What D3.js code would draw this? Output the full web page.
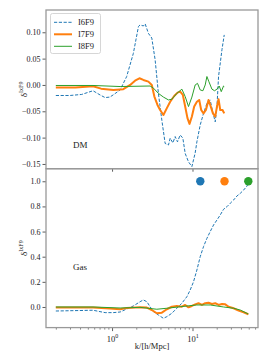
<!DOCTYPE html>
<html><head><meta charset="utf-8">
<script src="https://cdn.jsdelivr.net/npm/d3@7"></script>
<style>body{margin:0;background:#fff}svg{display:block}text{font-family:"Liberation Serif","DejaVu Serif",serif;fill:#222}</style>
</head><body><script>
// ---- data ----
const seriesNames = ["I6F9", "I7F9", "I8F9"];
const colors = ["#1f77b4", "#ff7f0e", "#2ca02c"];

const kDM6 = [0.2,0.3,0.42,0.58,0.71,0.82,0.94,1.03,1.26,1.52,1.84,2.13,2.23,2.45,2.58,2.83,3.12,3.43,3.77,4.16,4.57,5.03,5.28,5.70,6.09,6.51,7.03,7.59,8.11,8.92,9.83,10.8,11.34,12.47,13.71,15.11,16.61,17.95,19.17,20.14,21.08,23.24,24.8];
const dm6 = [-0.020,-0.020,-0.018,-0.011,-0.019,-0.024,-0.023,-0.019,-0.0095,0.016,0.060,0.111,0.114,0.112,0.116,0.098,0.089,0.048,-0.016,-0.067,-0.111,-0.114,-0.101,-0.110,-0.098,-0.108,-0.095,-0.101,-0.130,-0.146,-0.155,-0.129,-0.108,-0.076,-0.054,-0.035,-0.029,-0.053,-0.070,-0.041,0.016,0.067,0.095];

const kDM7 = [0.2,0.35,0.58,0.73,1.04,1.38,1.68,1.93,2.19,2.45,2.83,3.12,3.36,3.67,3.96,4.35,4.80,5.28,5.92,6.51,7.03,7.59,8.11,8.66,9.18,9.83,10.5,11.34,12.12,12.83,13.71,14.69,15.82,16.61,17.95,19.17,20.14,21.08,22.13,23.64,24.8];
const dm7 = [-0.005,-0.005,-0.0025,-0.007,-0.0095,-0.008,0.0,0.008,0.0127,0.0095,0.0063,0.0,-0.022,-0.038,-0.0475,-0.057,-0.044,-0.032,-0.021,-0.0146,-0.0127,-0.019,-0.041,-0.063,-0.074,-0.060,-0.041,-0.032,-0.0285,-0.0475,-0.054,-0.0475,-0.0285,-0.038,-0.054,-0.060,-0.041,-0.027,-0.0475,-0.0475,-0.054];

const kDM8 = [0.2,0.58,1.26,2.97,3.27,3.77,4.35,5.03,5.54,6.39,7.38,8.11,8.92,9.83,10.8,11.54,12.47,13.47,14.39,15.11,16.01,17.44,18.79,20.14,21.5,22.78,24.32,24.8];
const dm8 = [-0.001,-0.001,-0.003,-0.002,-0.006,-0.016,-0.023,-0.0285,-0.027,-0.016,-0.008,-0.022,-0.041,-0.023,0.0,0.003,-0.0095,-0.011,0.0,0.016,0.006,-0.008,-0.011,-0.008,-0.002,-0.0127,-0.002,-0.003];

const kGas6 = [0.2,0.58,0.82,1.03,1.26,1.52,1.84,2.23,2.45,2.71,2.97,3.27,3.77,4.35,4.80,5.54,6.39,7.38,8.52,9.36,10.29,11.34,12.47,13.71,15.11,16.61,18.26,20.14,22.13,24.32,26.82,29.48,32.4,35.72,39.26,43.17,47.6,49.4];
const gas6 = [-0.032,-0.026,-0.045,-0.045,-0.04,-0.016,0.008,0.042,0.056,0.042,0.002,-0.037,-0.064,-0.09,-0.077,-0.05,-0.01,0.03,0.082,0.135,0.2,0.294,0.40,0.48,0.546,0.60,0.652,0.692,0.732,0.777,0.798,0.825,0.851,0.883,0.904,0.93,0.962,0.984];

const kGas7 = [0.2,0.58,0.94,1.26,1.52,2.23,2.71,3.12,3.60,4.16,4.80,5.54,6.39,7.38,8.11,8.92,9.83,10.8,11.88,13.09,14.39,15.82,17.44,19.17,21.08,23.24,25.54,28.08,32.4,37.41,43.17,49.4];
const gas7 = [-0.005,-0.004,-0.012,-0.018,-0.008,-0.003,-0.005,-0.024,-0.05,-0.045,-0.018,0.002,0.008,0.002,0.016,-0.003,0.008,0.021,0.03,0.016,0.03,0.034,0.024,0.03,0.016,0.024,0.021,0.002,-0.01,-0.029,-0.042,-0.058];

const kGas8 = [0.2,0.58,1.26,2.23,3.60,4.80,7.03,11.34,16.61,24.32,32.4,39.26,49.4];
const gas8 = [0.0,0.0,-0.008,-0.003,-0.018,-0.01,0.002,0.016,0.016,0.0,-0.01,-0.024,-0.056];

const dotK = [12.5, 25.0, 49.4];
const dotV = [1.0, 1.0, 1.0];

const dmTicks = [-0.15,-0.10,-0.05,0.00,0.05,0.10];
const gasTicks = [0.0,0.2,0.4,0.6,0.8,1.0];
const xMajor = [1, 10];
const xMinor = [0.2,0.3,0.4,0.5,0.6,0.7,0.8,0.9,2,3,4,5,6,7,8,9,20,30,40,50,60];

// ---- layout ----
const W=270,H=360,L=46,R=258,T1=10,B1=168.7,T2=168.7,B2=327.6;
const svg=d3.select("body").append("svg").attr("width",W).attr("height",H);
const x=d3.scaleLog().domain([0.151,65.2]).range([L,R]);
const y1=d3.scaleLinear().domain([-0.159,0.1423]).range([B1,T1]);
const y2=d3.scaleLinear().domain([-0.164,1.1]).range([B2,T2]);

const defs=svg.append("defs");
defs.append("clipPath").attr("id","c1").append("rect").attr("x",L).attr("y",T1).attr("width",R-L).attr("height",B1-T1);
defs.append("clipPath").attr("id","c2").append("rect").attr("x",L).attr("y",T2).attr("width",R-L).attr("height",B2-T2);

const minus=s=>s.replace("-","\u2212");
function yAxis(scale,vals,fmt){
  const g=svg.append("g").attr("transform",`translate(${L},0)`)
    .call(d3.axisLeft(scale).tickValues(vals).tickSize(3.5).tickPadding(2).tickFormat(d=>minus(d3.format(fmt)(d))));
  g.select(".domain").remove();
  g.selectAll("line").attr("stroke","#333").attr("stroke-width",0.8);
  g.selectAll("text").attr("font-size",8).attr("fill","#222");
}
yAxis(y1,dmTicks,".2f");
yAxis(y2,gasTicks,".1f");

// x axes
const gx=svg.append("g").attr("transform",`translate(0,${B2})`)
  .call(d3.axisBottom(x).tickValues(xMajor).tickSize(3.5).tickPadding(3).tickFormat(""));
gx.select(".domain").remove();
gx.selectAll("line").attr("stroke","#333").attr("stroke-width",0.8);
gx.selectAll(".tick").each(function(d){
  const t=d3.select(this).append("text").attr("y",14).attr("text-anchor","middle").attr("font-size",8.5).attr("fill","#222");
  t.append("tspan").text("10");
  t.append("tspan").attr("dy",-4).attr("font-size",6).text(Math.round(Math.log10(d)));
});
const gm=svg.append("g").attr("transform",`translate(0,${B2})`)
  .call(d3.axisBottom(x).tickValues(xMinor.filter(v=>x(v)<R-1)).tickSize(2).tickFormat(""));
gm.select(".domain").remove();
gm.selectAll("line").attr("stroke","#333").attr("stroke-width",0.6);
const gt=svg.append("g").attr("transform",`translate(0,${B1})`)
  .call(d3.axisBottom(x).tickValues(xMajor).tickSize(3).tickFormat(""));
gt.select(".domain").remove();
gt.selectAll("line").attr("stroke","#333").attr("stroke-width",0.8);

// lines
const line=(ys)=>d3.line().x(d=>x(d[0])).y(d=>ys(d[1]));
const zip=(a,b)=>a.map((k,i)=>[k,b[i]]);
const styles=[{w:1,dash:"3.2,1.6"},{w:2,dash:null},{w:1,dash:null}];
const dmData=[zip(kDM6,dm6),zip(kDM7,dm7),zip(kDM8,dm8)];
const gasData=[zip(kGas6,gas6),zip(kGas7,gas7),zip(kGas8,gas8)];
const p1=svg.append("g").attr("clip-path","url(#c1)");
const p2=svg.append("g").attr("clip-path","url(#c2)");
[0,1,2].forEach(i=>{
  p1.append("path").datum(dmData[i]).attr("d",line(y1)).attr("fill","none").attr("stroke",colors[i])
    .attr("stroke-width",styles[i].w).attr("stroke-dasharray",styles[i].dash).attr("stroke-linejoin","round");
  p2.append("path").datum(gasData[i]).attr("d",line(y2)).attr("fill","none").attr("stroke",colors[i])
    .attr("stroke-width",styles[i].w).attr("stroke-dasharray",styles[i].dash).attr("stroke-linejoin","round");
});
p2.selectAll("circle").data(dotK).join("circle").attr("cx",d=>x(d)).attr("cy",(d,i)=>y2(dotV[i])).attr("r",4.2).attr("fill",(d,i)=>colors[i]);

// frames
[[T1,B1],[T2,B2]].forEach(([t,b])=>svg.append("rect").attr("x",L).attr("y",t).attr("width",R-L).attr("height",b-t)
  .attr("fill","none").attr("stroke","#999").attr("stroke-width",1.3));

// legend
const lg=svg.append("g");
lg.append("rect").attr("x",50.5).attr("y",13.5).attr("width",50).attr("height",40).attr("rx",2)
  .attr("fill","#fff").attr("fill-opacity",0.85).attr("stroke","#ccc").attr("stroke-width",0.8);
seriesNames.forEach((n,i)=>{
  const yy=22.3+i*12;
  lg.append("line").attr("x1",54).attr("x2",72).attr("y1",yy).attr("y2",yy).attr("stroke",colors[i])
    .attr("stroke-width",styles[i].w).attr("stroke-dasharray",styles[i].dash);
  lg.append("text").attr("x",78).attr("y",yy+3).attr("font-size",8.5).text(n);
});

// panel labels
svg.append("text").attr("x",73).attr("y",148).attr("font-size",9).text("DM");
svg.append("text").attr("x",73).attr("y",270).attr("font-size",9).text("Gas");

function ylab(cy){
  const t=svg.append("text").attr("transform",`translate(27,${cy}) rotate(-90)`).attr("text-anchor","middle").attr("font-size",9);
  t.append("tspan").text("\u03B4");
  t.append("tspan").attr("dy",-4).attr("font-size",6).text("IxF9");
}
ylab((T1+B1)/2);
ylab((T2+B2)/2);

svg.append("text").attr("x",(L+R)/2).attr("y",349).attr("text-anchor","middle").attr("font-size",8.5).text("k/[h/Mpc]");
</script></body></html>
